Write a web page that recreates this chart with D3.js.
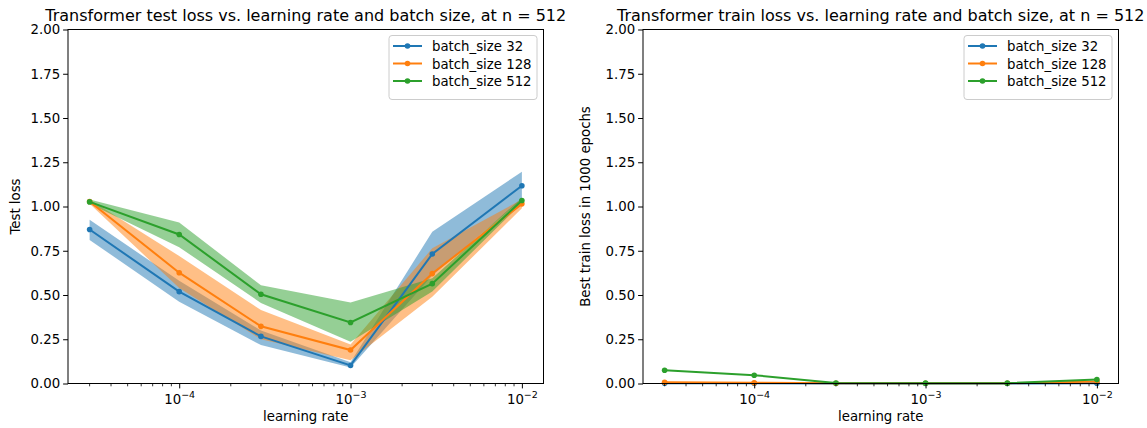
<!DOCTYPE html>
<html><head><meta charset="utf-8">
<script src="https://cdn.jsdelivr.net/npm/d3@7"></script>
<style>body{margin:0;background:#fff}svg{font-family:"DejaVu Sans",sans-serif}</style>
</head><body><svg id="c" width="1147" height="428"></svg>
<script>
const learningRates = [3e-5, 1e-4, 3e-4, 1e-3, 3e-3, 1e-2];
const seriesNames = ["batch_size 32", "batch_size 128", "batch_size 512"];
const colors = ["#1f77b4", "#ff7f0e", "#2ca02c"];
// test loss (mean, low, high)
const test32 = [0.870, 0.519, 0.266, 0.102, 0.732, 1.117];
const test32Lo = [0.811, 0.462, 0.217, 0.090, 0.610, 1.040];
const test32Hi = [0.925, 0.580, 0.300, 0.120, 0.858, 1.196];
const test128 = [1.028, 0.626, 0.323, 0.189, 0.621, 1.015];
const test128Lo = [1.015, 0.540, 0.250, 0.132, 0.490, 0.990];
const test128Hi = [1.040, 0.721, 0.415, 0.220, 0.764, 1.040];
const test512 = [1.026, 0.842, 0.504, 0.345, 0.564, 1.034];
const test512Lo = [1.015, 0.770, 0.455, 0.236, 0.520, 1.020];
const test512Hi = [1.040, 0.909, 0.555, 0.458, 0.594, 1.050];
// best train loss
const train32 = [0.002, 0.001, 0.000, 0.000, 0.000, 0.002];
const train128 = [0.007, 0.004, 0.001, 0.001, 0.001, 0.012];
const train512 = [0.075, 0.047, 0.003, 0.002, 0.002, 0.022];
const yTicks = [0, 0.25, 0.5, 0.75, 1.0, 1.25, 1.5, 1.75, 2.0];
const xMajorExp = [-4, -3, -2];

const svg = d3.select("#c");
const FS = 13.3;

function panel(opts) {
  const {left, right, top, bottom, title, ylabel, labelOffset, series, bands} = opts;
  const g = svg.append("g");
  const lo = Math.log10(learningRates[0]), hi = Math.log10(learningRates[learningRates.length-1]);
  const pad = (hi - lo) * 0.05;
  const x = d3.scaleLog().domain([Math.pow(10, lo - pad), Math.pow(10, hi + pad)]).range([left, right]);
  const y = d3.scaleLinear().domain([0, 2]).range([bottom, top]);

  if (bands) bands.forEach((b, i) => {
    const area = d3.area().x((d, j) => x(learningRates[j])).y0(d => y(d[0])).y1(d => y(d[1]));
    g.append("path").datum(b.lo.map((v, j) => [v, b.hi[j]]))
      .attr("d", area).attr("fill", colors[i]).attr("fill-opacity", 0.5);
  });
  const line = d3.line().x((d, j) => x(learningRates[j])).y(d => y(d));
  series.forEach((s, i) => {
    g.append("path").datum(s).attr("d", line).attr("fill", "none")
      .attr("stroke", colors[i]).attr("stroke-width", 2);
    g.selectAll(null).data(s).enter().append("circle")
      .attr("cx", (d, j) => x(learningRates[j])).attr("cy", d => y(d)).attr("r", 2.8)
      .attr("fill", colors[i]);
  });

  g.append("rect").attr("x", left).attr("y", top).attr("width", right - left).attr("height", bottom - top)
    .attr("fill", "none").attr("stroke", "#000").attr("stroke-width", 1);

  const ya = g.append("g").attr("transform", `translate(${left},0)`)
    .call(d3.axisLeft(y).tickValues(yTicks).tickSize(4.9).tickPadding(3).tickFormat(d3.format(".2f")));
  ya.select(".domain").remove();
  ya.selectAll("text").attr("font-size", FS).attr("fill", "#000").attr("font-family", "DejaVu Sans");
  ya.selectAll("line").attr("stroke", "#000");

  const xa = g.append("g").attr("transform", `translate(0,${bottom})`)
    .call(d3.axisBottom(x).tickValues(xMajorExp.map(e => Math.pow(10, e))).tickSize(4.9).tickFormat(""));
  xa.select(".domain").remove();
  xa.selectAll("line").attr("stroke", "#000");
  xa.selectAll(".tick").each(function(d) {
    const t = d3.select(this).append("text").attr("y", 20).attr("fill", "#000")
      .attr("font-size", FS).attr("text-anchor", "middle").attr("font-family", "DejaVu Sans");
    t.append("tspan").text("10");
    t.append("tspan").attr("dy", -6).attr("font-size", 9.5)
      .text(String(Math.round(Math.log10(d))).replace("-", "\u2212"));
  });
  const [d0, d1] = x.domain();
  const minors = [];
  for (let e = -6; e <= 0; e++) for (let m = 2; m <= 9; m++) {
    const v = m * Math.pow(10, e);
    if (v >= d0 && v <= d1) minors.push(v);
  }
  g.append("g").selectAll("line").data(minors).enter().append("line")
    .attr("x1", d => x(d)).attr("x2", d => x(d)).attr("y1", bottom).attr("y2", bottom + 2.8)
    .attr("stroke", "#000").attr("stroke-width", 0.8);

  g.append("text").attr("x", (left + right) / 2).attr("y", 421).attr("text-anchor", "middle")
    .attr("font-size", FS).text("learning rate");
  g.append("text").attr("transform", `translate(${left - labelOffset},${(top + bottom) / 2}) rotate(-90)`)
    .attr("text-anchor", "middle").attr("font-size", FS).text(ylabel);
  g.append("text").attr("x", (left + right) / 2).attr("y", 20.5).attr("text-anchor", "middle")
    .attr("font-size", 16).text(title);

  const lw = 148, lh = 64;
  const lx = right - 6.5 - lw, ly = top + 6;
  const lg = g.append("g").attr("transform", `translate(${lx},${ly})`);
  lg.append("rect").attr("width", lw).attr("height", lh).attr("rx", 3)
    .attr("fill", "#fff").attr("fill-opacity", 0.8).attr("stroke", "#ccc");
  seriesNames.forEach((n, i) => {
    const yy = 10.5 + i * 17.5;
    lg.append("line").attr("x1", 4).attr("x2", 33).attr("y1", yy).attr("y2", yy)
      .attr("stroke", colors[i]).attr("stroke-width", 2);
    lg.append("circle").attr("cx", 18.5).attr("cy", yy).attr("r", 2.8).attr("fill", colors[i]);
    lg.append("text").attr("x", 43).attr("y", yy + 5).attr("font-size", FS).text(n);
  });
}

panel({left: 68, right: 543.5, top: 29.5, bottom: 383.5, labelOffset: 48,
  title: "Transformer test loss vs. learning rate and batch size, at n = 512",
  ylabel: "Test loss",
  series: [test32, test128, test512],
  bands: [{lo: test32Lo, hi: test32Hi}, {lo: test128Lo, hi: test128Hi}, {lo: test512Lo, hi: test512Hi}]});
panel({left: 643, right: 1118.5, top: 29.5, bottom: 383.5, labelOffset: 53,
  title: "Transformer train loss vs. learning rate and batch size, at n = 512",
  ylabel: "Best train loss in 1000 epochs",
  series: [train32, train128, train512]});
</script></body></html>
